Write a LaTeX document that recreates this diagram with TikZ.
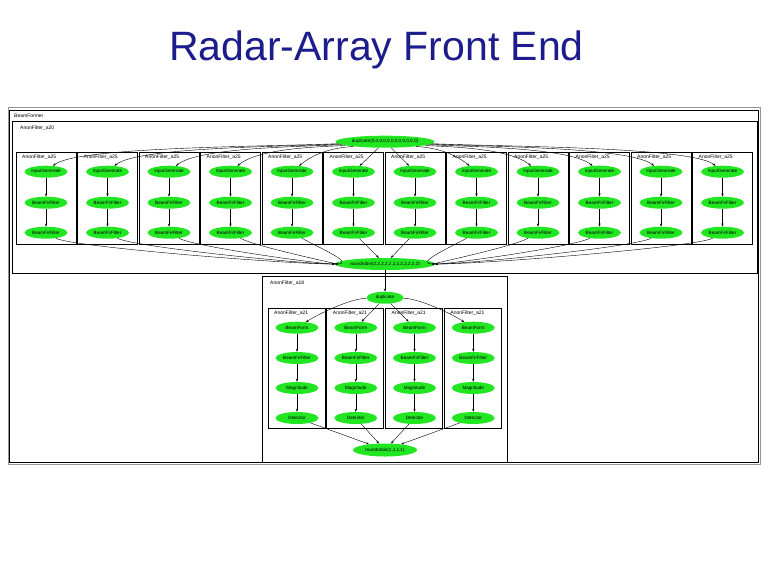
\documentclass[tikz,border=0pt]{standalone}
\usepackage{fontspec}
\setmainfont{Liberation Sans}
\usetikzlibrary{shapes.geometric,arrows.meta,calc}
\definecolor{ggreen}{RGB}{34,230,34}
\definecolor{titleblue}{RGB}{28,28,140}
\definecolor{framegray}{RGB}{150,150,150}
\begin{document}
\begin{tikzpicture}[x=1pt,y=-1pt,
  gnode/.style={ellipse,fill=ggreen,draw=none,minimum width=43pt,minimum height=12pt,inner sep=0pt,font=\fontsize{4.6}{5}\selectfont},
  lbl/.style={font=\fontsize{5}{6}\selectfont,inner sep=1pt,anchor=west},
  clusterbox/.style={draw=black,line width=0.6pt},
  framebox/.style={draw=framegray,line width=0.8pt},
  edge/.style={-{Stealth[length=3pt,width=2.2pt]},line width=0.4pt,black}]
\useasboundingbox (0,0) rectangle (768,576);
\fill[white] (0,0) rectangle (768,576);
\node[font=\fontsize{41}{48}\selectfont,text=titleblue,anchor=base,inner sep=0pt] (title) at (376.5,60) {Radar-Array Front End};
% frames
\draw[framebox] (8.5,107.5) rectangle (760,464);
\draw[clusterbox] (9.5,110.5) rectangle (758.5,462.5);
\node[lbl] (lroot) at (13,116) {BeamFormer};
\draw[clusterbox] (12,121.5) rectangle (757,273);
\node[lbl] (la20) at (19,128) {AnonFilter\_a20};
% top splitter / joiner
\node[gnode,minimum width=99pt] (split) at (385,141.7) {duplicate(0,0,0,0,0,0,0,0,0,0,0,0)};
\node[gnode,minimum width=100pt] (join) at (385,264) {roundrobin(2,2,2,2,2,2,2,2,2,2,2,2)};
\foreach \i in {1,...,12}{
  \pgfmathsetmacro\cx{46+61.5*(\i-1)}
  \pgfmathsetmacro\bx{16+61.5*(\i-1)}
  \draw[clusterbox] (\bx,152.5) rectangle ++(60,91.5);
  \node[lbl] (la\i) at (\bx+5,157.5) {AnonFilter\_a25};
  \node[gnode] (ig\i) at (\cx,171.7) {InputGenerate};
  \node[gnode] (bf\i) at (\cx,202.7) {BeamFirFilter};
  \node[gnode] (df\i) at (\cx,232.7) {BeamFirFilter};
  \draw[edge] (ig\i) -- (bf\i);
  \draw[edge] (bf\i) -- (df\i);
}
% splitter -> InputGenerate
\foreach \i in {1,...,5}{
  \pgfmathsetmacro\dd{385-(46+61.5*(\i-1))}
  \draw[edge] (split) .. controls ($(split)+(-0.35*\dd,5)$) and ($(ig\i)+(30,-25)$) .. (ig\i);
  \draw[edge] (df\i) .. controls ($(df\i)+(25,14)$) and ($(join)+(-0.3*\dd,0)$) .. (join);
}
\foreach \i in {8,...,12}{
  \pgfmathsetmacro\dd{(46+61.5*(\i-1))-385}
  \draw[edge] (split) .. controls ($(split)+(0.35*\dd,5)$) and ($(ig\i)+(-30,-25)$) .. (ig\i);
  \draw[edge] (df\i) .. controls ($(df\i)+(-25,14)$) and ($(join)+(0.3*\dd,0)$) .. (join);
}
\draw[edge] (split) -- (ig6);
\draw[edge] (split) -- (ig7);
\draw[edge] (df6) -- (join);
\draw[edge] (df7) -- (join);
% bottom cluster
\draw[clusterbox] (262,276) rectangle (507,462);
\node[lbl] (la18) at (269,283.5) {AnonFilter\_a18};
\node[gnode,minimum width=37pt] (dup) at (385,297.7) {duplicate};
\node[gnode,minimum width=64pt,minimum height=13pt] (rr) at (385,450) {roundrobin(1,1,1,1)};
\draw[edge] (join) -- (dup);
\foreach \j in {1,...,4}{
  \pgfmathsetmacro\cx{297+58.75*(\j-1)}
  \pgfmathsetmacro\bx{268+58.75*(\j-1)}
  \draw[clusterbox] (\bx,308) rectangle ++(57,120);
  \node[lbl] (lb\j) at (\bx+5,313.5) {AnonFilter\_a21};
  \node[gnode] (bm\j) at (\cx,327.7) {BeamForm};
  \node[gnode] (bb\j) at (\cx,358) {BeamFirFilter};
  \node[gnode] (mg\j) at (\cx,388) {Magnitude};
  \node[gnode] (dt\j) at (\cx,418) {Detector};
  \draw[edge] (bm\j) -- (bb\j);
  \draw[edge] (bb\j) -- (mg\j);
  \draw[edge] (mg\j) -- (dt\j);
  \draw[edge] (dt\j) -- (rr);
}
\draw[edge] (dup) .. controls ($(dup)+(-35,1)$) and ($(bm1)+(22,-14)$) .. (bm1);
\draw[edge] (dup) -- (bm2);
\draw[edge] (dup) -- (bm3);
\draw[edge] (dup) .. controls ($(dup)+(35,1)$) and ($(bm4)+(-22,-14)$) .. (bm4);
\end{tikzpicture}
\end{document}
